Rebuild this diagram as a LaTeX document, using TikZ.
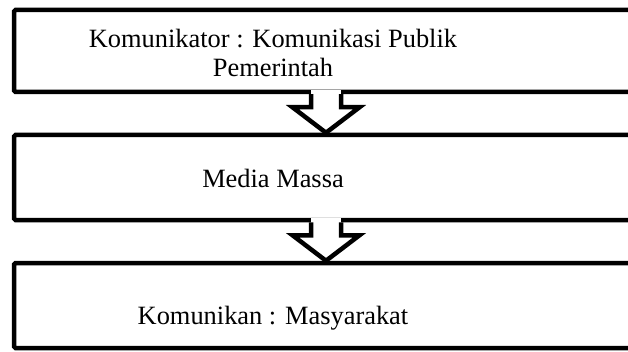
\documentclass[tikz,border=0pt]{standalone}
\usepackage{fontspec}
\setmainfont{Liberation Serif}
\usetikzlibrary{calc}
\begin{document}
\begin{tikzpicture}[x=1pt,y=1pt,
    kotak/.style={draw,line width=4.5pt,rounded corners=1.5pt,minimum width=624pt,inner sep=0pt},
    teks/.style={anchor=base,font=\fontsize{26.4}{29.5}\selectfont,align=center},
    panah/.style={line width=4.5pt,line join=miter}]
      \useasboundingbox (0,0) rectangle (628,351);
      \node[kotak,minimum height=82pt] (b1) at (326,300) {};
      \node[kotak,minimum height=85pt] (b2) at (326,173.5) {};
      \node[kotak,minimum height=85pt] (b3) at (326,45.5) {};
      \node[teks] (t1) at (273,274) {Komunikator : Komunikasi Publik\\Pemerintah};
      \node[teks] (t2) at (273,164) {Media Massa};
      \node[teks] (t3) at (273,27) {Komunikan : Masyarakat};
      % panah blok antar kotak
      \fill[white] ($(b1.south)+(-15,4)$) rectangle ($(b1.south)+(15,-13)$);
      \draw[panah] ($(b1.south)+(-15,0)$) -- ++(0,-13) -- ++(-18.5,0) -- (b2.north)
        -- ($(b1.south)+(33.5,-13)$) -- ++(-18.5,0) -- ++(0,13);
      \fill[white] ($(b2.south)+(-15,4)$) rectangle ($(b2.south)+(15,-13)$);
      \draw[panah] ($(b2.south)+(-15,0)$) -- ++(0,-13) -- ++(-18.5,0) -- (b3.north)
        -- ($(b2.south)+(33.5,-13)$) -- ++(-18.5,0) -- ++(0,13);
\end{tikzpicture}
\end{document}
